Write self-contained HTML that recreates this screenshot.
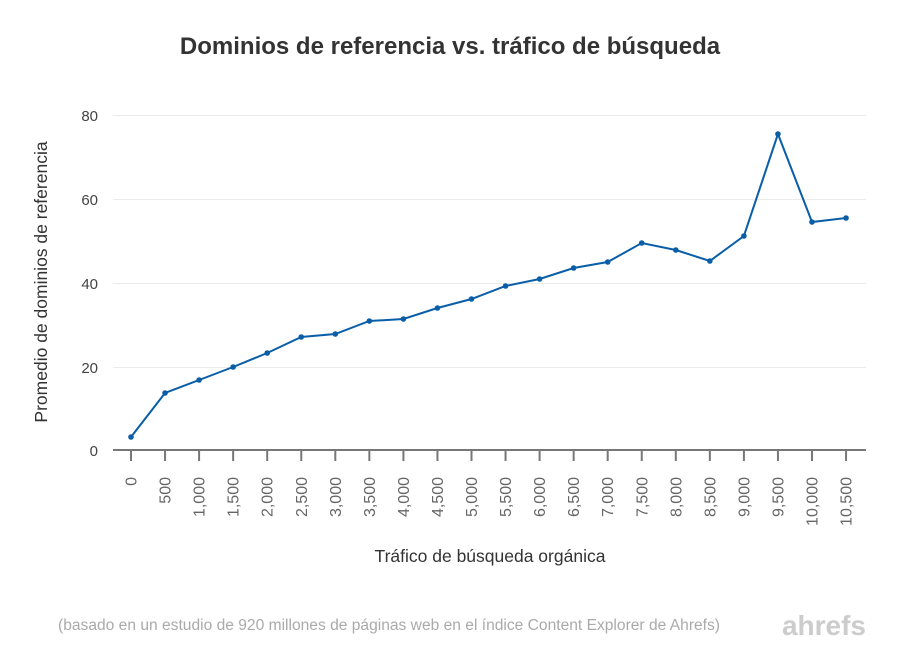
<!DOCTYPE html>
<html><head><meta charset="utf-8"><style>body{margin:0;background:#fff}svg{display:block}</style></head><body>
<svg width="900" height="672" xmlns="http://www.w3.org/2000/svg" font-family="Liberation Sans, sans-serif">
<rect width="900" height="672" fill="#fff"/>
<text x="450" y="54" text-anchor="middle" font-size="24" font-weight="bold" fill="#333">Dominios de referencia vs. tráfico de búsqueda</text>
<g stroke="#ebebeb" stroke-width="1">
<line x1="113" y1="115.5" x2="866" y2="115.5"/>
<line x1="113" y1="199.5" x2="866" y2="199.5"/>
<line x1="113" y1="283.5" x2="866" y2="283.5"/>
<line x1="113" y1="367.5" x2="866" y2="367.5"/>
</g>
<g font-size="15" fill="#444" text-anchor="end">
<text x="98" y="121">80</text><text x="98" y="205">60</text><text x="98" y="289">40</text><text x="98" y="373">20</text><text x="98" y="456">0</text>
</g>
<line x1="113" y1="450" x2="866" y2="450" stroke="#777" stroke-width="2"/>
<g id="ticks" stroke="#777" stroke-width="2"></g>
<g id="labels" font-size="16" fill="#666"></g>
<text transform="translate(47,282) rotate(-90)" text-anchor="middle" font-size="17.5" fill="#333">Promedio de dominios de referencia</text>
<text x="490" y="562" text-anchor="middle" font-size="17.5" fill="#333">Tráfico de búsqueda orgánica</text>
<polyline id="line" fill="none" stroke="#0a5ea8" stroke-width="2" points=""/>
<g id="dots" fill="#0a5ea8"></g>
<text x="58" y="630" font-size="15.5" fill="#aaa" textLength="662" lengthAdjust="spacingAndGlyphs">(basado en un estudio de 920 millones de páginas web en el índice Content Explorer de Ahrefs)</text>
<text x="866" y="635" text-anchor="end" font-size="28" font-weight="bold" fill="#ccc">ahrefs</text>
<script>
var ys=[437,393,380,367,353,337,334,321,319,308,299,286,279,268,262,243,250,261,236,134,222,218];
var labs=["0","500","1,000","1,500","2,000","2,500","3,000","3,500","4,000","4,500","5,000","5,500","6,000","6,500","7,000","7,500","8,000","8,500","9,000","9,500","10,000","10,500"];
var ns="http://www.w3.org/2000/svg",pts=[];
for(var i=0;i<22;i++){var x=131+i*34.05;pts.push(x+","+ys[i]);
var t=document.createElementNS(ns,"line");t.setAttribute("x1",x);t.setAttribute("x2",x);t.setAttribute("y1",450);t.setAttribute("y2",461);document.getElementById("ticks").appendChild(t);
var l=document.createElementNS(ns,"text");l.setAttribute("transform","translate("+(x+5.5)+",477) rotate(-90)");l.setAttribute("text-anchor","end");l.textContent=labs[i];document.getElementById("labels").appendChild(l);
var c=document.createElementNS(ns,"circle");c.setAttribute("cx",x);c.setAttribute("cy",ys[i]);c.setAttribute("r",2.8);document.getElementById("dots").appendChild(c);}
document.getElementById("line").setAttribute("points",pts.join(" "));
</script>
</svg>
</body></html>
